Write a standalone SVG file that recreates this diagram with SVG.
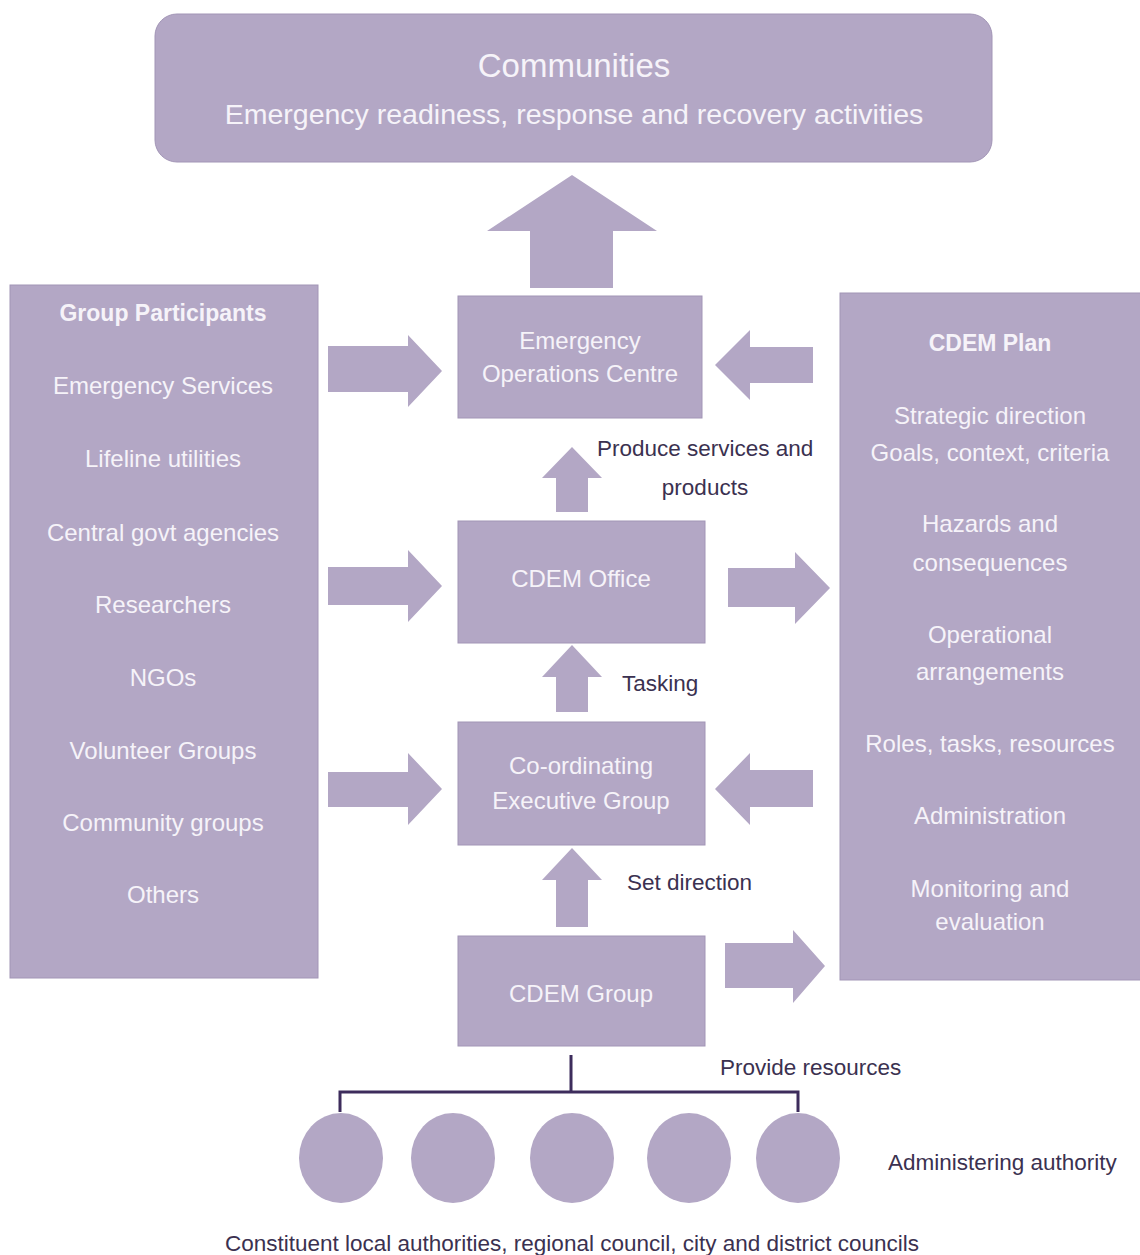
<svg xmlns="http://www.w3.org/2000/svg" width="1140" height="1255" viewBox="0 0 1140 1255">
<style>
.box{fill:#b3a7c5;stroke:#a295b6;stroke-width:1}
.arr{fill:#b3a7c5}
.w{font-family:"Liberation Sans",Arial,sans-serif;fill:#f6f3f9;text-anchor:middle;dominant-baseline:central}
.b{font-weight:bold}
.lbl{font-family:"Liberation Sans",Arial,sans-serif;fill:#3b3150;font-size:22.5px;dominant-baseline:central}
.ln{fill:none;stroke:#3d2c5c;stroke-width:3}
</style>
<rect width="1140" height="1255" fill="#ffffff"/>

<g id="communities">
<rect class="box" x="155" y="14" width="837" height="148" rx="22"/>
<text class="w" x="574" y="65" font-size="33">Communities</text>
<text class="w" x="574" y="114" font-size="28.5">Emergency readiness, response and recovery activities</text>
</g>

<g id="group-participants">
<rect class="box" x="10" y="285" width="308" height="693"/>
<text class="w b" x="163" y="313" font-size="23">Group Participants</text>
<text class="w" x="163" y="385" font-size="24">Emergency Services</text>
<text class="w" x="163" y="458" font-size="24">Lifeline utilities</text>
<text class="w" x="163" y="532" font-size="24">Central govt agencies</text>
<text class="w" x="163" y="604" font-size="24">Researchers</text>
<text class="w" x="163" y="677" font-size="24">NGOs</text>
<text class="w" x="163" y="750" font-size="24">Volunteer Groups</text>
<text class="w" x="163" y="822" font-size="24">Community groups</text>
<text class="w" x="163" y="894" font-size="24">Others</text>
</g>

<g id="cdem-plan">
<rect class="box" x="840" y="293" width="305" height="687"/>
<text class="w b" x="990" y="343" font-size="23">CDEM Plan</text>
<text class="w" x="990" y="415" font-size="24">Strategic direction</text>
<text class="w" x="990" y="452" font-size="24">Goals, context, criteria</text>
<text class="w" x="990" y="523" font-size="24">Hazards and</text>
<text class="w" x="990" y="562" font-size="24">consequences</text>
<text class="w" x="990" y="634" font-size="24">Operational</text>
<text class="w" x="990" y="671" font-size="24">arrangements</text>
<text class="w" x="990" y="743" font-size="24">Roles, tasks, resources</text>
<text class="w" x="990" y="815" font-size="24">Administration</text>
<text class="w" x="990" y="888" font-size="24">Monitoring and</text>
<text class="w" x="990" y="921" font-size="24">evaluation</text>
</g>

<g id="eoc">
<rect class="box" x="458" y="296" width="244" height="122"/>
<text class="w" x="580" y="340" font-size="24">Emergency</text>
<text class="w" x="580" y="373" font-size="24">Operations Centre</text>
</g>

<g id="cdem-office">
<rect class="box" x="458" y="521" width="247" height="122"/>
<text class="w" x="581" y="578" font-size="24">CDEM Office</text>
</g>

<g id="ceg">
<rect class="box" x="458" y="722" width="247" height="123"/>
<text class="w" x="581" y="765" font-size="24">Co-ordinating</text>
<text class="w" x="581" y="800" font-size="24">Executive Group</text>
</g>

<g id="cdem-group">
<rect class="box" x="458" y="936" width="247" height="110"/>
<text class="w" x="581" y="993" font-size="24">CDEM Group</text>
</g>

<g id="councils">
<ellipse class="arr" cx="341" cy="1158" rx="42" ry="45"/>
<ellipse class="arr" cx="453" cy="1158" rx="42" ry="45"/>
<ellipse class="arr" cx="572" cy="1158" rx="42" ry="45"/>
<ellipse class="arr" cx="689" cy="1158" rx="42" ry="45"/>
<ellipse class="arr" cx="798" cy="1158" rx="42" ry="45"/>
</g>

<g id="connectors">
<polygon class="arr" points="530,288 613,288 613,231 657,231 572,175 487,231 530,231"/>
<polygon class="arr" points="328,346 408,346 408,335 442,371 408,407 408,392 328,392"/>
<polygon class="arr" points="328,567 408,567 408,550 442,586 408,622 408,605 328,605"/>
<polygon class="arr" points="328,772 408,772 408,753 442,789 408,825 408,807 328,807"/>
<polygon class="arr" points="813,347 750,347 750,330 715,365 750,400 750,383 813,383"/>
<polygon class="arr" points="813,770 750,770 750,753 715,789 750,825 750,807 813,807"/>
<polygon class="arr" points="728,568 795,568 795,552 830,588 795,624 795,607 728,607"/>
<polygon class="arr" points="725,943 793,943 793,930 825,966 793,1003 793,988 725,988"/>
<polygon class="arr" points="556,512 588,512 588,478 602,478 572,447 542,478 556,478"/>
<polygon class="arr" points="556,712 588,712 588,677 602,677 572,645 542,677 556,677"/>
<polygon class="arr" points="556,927 588,927 588,880 602,880 572,848 542,880 556,880"/>
<path class="ln" d="M571,1055 V1092 M340,1112 V1092 H798 V1112"/>
</g>

<g id="labels">
<text class="lbl" x="597" y="448">Produce services and</text>
<text class="lbl" x="705" y="487" text-anchor="middle">products</text>
<text class="lbl" x="622" y="683">Tasking</text>
<text class="lbl" x="627" y="882">Set direction</text>
<text class="lbl" x="720" y="1067">Provide resources</text>
<text class="lbl" x="888" y="1162">Administering authority</text>
<text class="lbl" x="572" y="1243" text-anchor="middle">Constituent local authorities, regional council, city and district councils</text>
</g>
</svg>
